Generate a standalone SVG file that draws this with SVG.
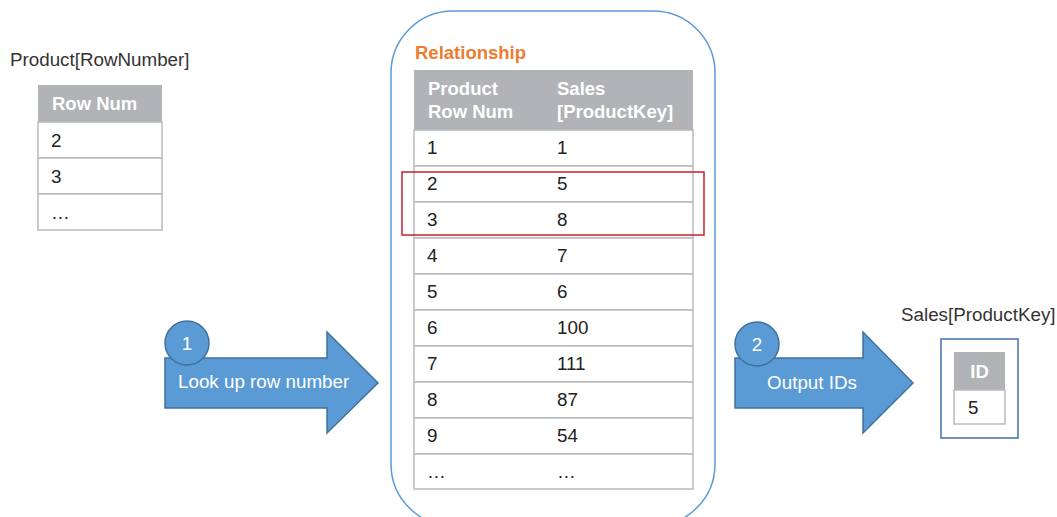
<svg xmlns="http://www.w3.org/2000/svg" width="1057" height="517" viewBox="0 0 1057 517">
<style>
text{font-family:"Liberation Sans",Arial,sans-serif;font-size:18.8px;fill:#222}
.hd{fill:#b1b3b6}
.cell{fill:#fff;stroke:#b9bbbd;stroke-width:1.5}
.ht{fill:#fff;font-weight:bold;font-size:18.5px}
.title{fill:#333}
.arrow{fill:#5b9bd5;stroke:#41719c;stroke-width:1.5}
.wt{fill:#fff}
</style>
<rect width="1057" height="517" fill="#fff"/>

<g id="product-rownumber">
<text class="title" x="10" y="66">Product[RowNumber]</text>
<rect class="hd" x="38" y="85" width="124" height="37"/>
<text class="ht" x="52" y="110">Row Num</text>
<rect class="cell" x="38" y="122" width="124" height="36"/>
<rect class="cell" x="38" y="158" width="124" height="36"/>
<rect class="cell" x="38" y="194" width="124" height="36"/>
<text x="51" y="147">2</text>
<text x="51" y="183">3</text>
<text x="51" y="219">…</text>
</g>

<g id="relationship">
<rect x="391" y="11" width="324" height="515" rx="62" fill="none" stroke="#5b9bd5" stroke-width="1.5"/>
<text x="415" y="59" style="fill:#ed7d31;font-weight:bold;font-size:18.5px">Relationship</text>
<rect class="hd" x="414" y="70" width="279" height="60"/>
<text class="ht" x="428" y="95">Product</text>
<text class="ht" x="428" y="118">Row Num</text>
<text class="ht" x="557" y="95">Sales</text>
<text class="ht" x="557" y="118">[ProductKey]</text>
<rect class="cell" x="414" y="130" width="279" height="36"/>
<rect class="cell" x="414" y="166" width="279" height="36"/>
<rect class="cell" x="414" y="202" width="279" height="36"/>
<rect class="cell" x="414" y="238" width="279" height="36"/>
<rect class="cell" x="414" y="274" width="279" height="36"/>
<rect class="cell" x="414" y="310" width="279" height="36"/>
<rect class="cell" x="414" y="346" width="279" height="36"/>
<rect class="cell" x="414" y="382" width="279" height="36"/>
<rect class="cell" x="414" y="418" width="279" height="36"/>
<rect class="cell" x="414" y="454" width="279" height="35"/>
<text x="427" y="154">1</text><text x="557" y="154">1</text>
<text x="427" y="190">2</text><text x="557" y="190">5</text>
<text x="427" y="226">3</text><text x="557" y="226">8</text>
<text x="427" y="262">4</text><text x="557" y="262">7</text>
<text x="427" y="298">5</text><text x="557" y="298">6</text>
<text x="427" y="334">6</text><text x="557" y="334">100</text>
<text x="427" y="370">7</text><text x="557" y="370">111</text>
<text x="427" y="406">8</text><text x="557" y="406">87</text>
<text x="427" y="442">9</text><text x="557" y="442">54</text>
<text x="427" y="478">…</text><text x="557" y="478">…</text>
<rect x="402" y="172" width="302" height="63" fill="none" stroke="#c8202f" stroke-width="1.5"/>
</g>

<g id="connectors">
<g id="step1">
<path class="arrow" d="M165,358 H327 V332 L378,383 L327,433 V408 H165 Z"/>
<circle class="arrow" cx="187" cy="343" r="22"/>
<text class="wt" x="187" y="350" text-anchor="middle">1</text>
<text class="wt" x="178" y="388">Look up row number</text>
</g>
<g id="step2">
<path class="arrow" d="M735,358 H863 V332 L913,383 L863,433 V408 H735 Z"/>
<circle class="arrow" cx="757" cy="344" r="22"/>
<text class="wt" x="757" y="351" text-anchor="middle">2</text>
<text class="wt" x="812" y="389" text-anchor="middle">Output IDs</text>
</g>
</g>

<g id="sales-productkey">
<text class="title" x="901" y="321">Sales[ProductKey]</text>
<rect x="941" y="339" width="77" height="99" fill="#fff" stroke="#3f6fb6" stroke-width="1.5"/>
<rect class="hd" x="954" y="352" width="51" height="38"/>
<text class="ht" x="979.5" y="378" text-anchor="middle">ID</text>
<rect class="cell" x="954" y="390" width="51" height="34"/>
<text x="968" y="414">5</text>
</g>
</svg>
